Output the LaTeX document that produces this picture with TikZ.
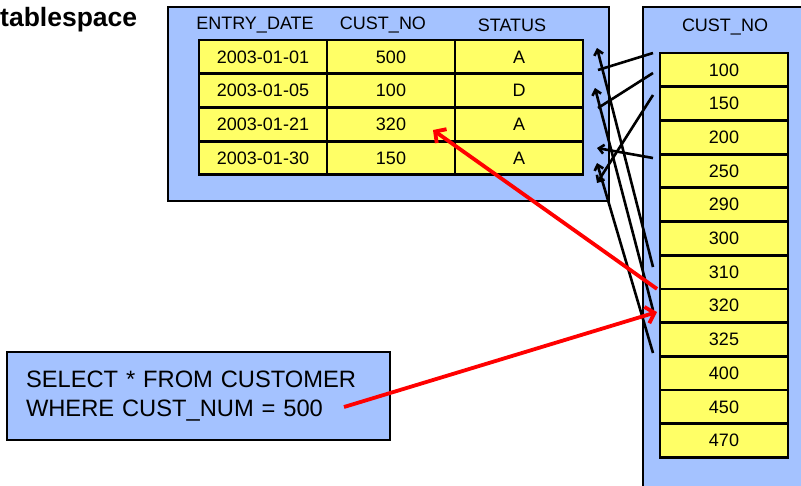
\documentclass[tikz,border=0pt]{standalone}
\usepackage{fontspec}
\setmainfont{Liberation Sans}
\usepackage{tikz}
\usetikzlibrary{positioning,arrows.meta}

\definecolor{areablue}{RGB}{164,194,255}
\definecolor{cellyellow}{RGB}{255,255,102}

\begin{document}
\begin{tikzpicture}[
    x=1pt, y=-1pt,
    font=\fontsize{18}{21}\selectfont,
    areabox/.style={draw=black, fill=areablue, line width=2.8pt, inner sep=0pt},
    cellnode/.style={draw=black, fill=cellyellow, line width=2.8pt, minimum width=128pt, minimum height=33.7pt, inner sep=0pt, outer sep=0pt},
    ptr/.style={draw=black, line width=2.6pt},
    ptrarrow/.style={ptr, -{Straight Barb[length=5pt,width=9pt]}},
    hitarrow/.style={draw=red, line width=3.8pt, -{Straight Barb[length=8pt,width=17pt]}}
    ]
        \useasboundingbox (0,0) rectangle (801,485);
        \clip (0,0) rectangle (801,485);

        %Areas
        \node[areabox, minimum width=441pt, minimum height=194pt]
            (tbl) at (388.5,104) {};
        \node[areabox, minimum width=170pt, minimum height=500pt]
            (idx) at (728,257) {};
        \node[areabox, text width=345pt, minimum height=88pt, inner xsep=19pt, align=left, font=\fontsize{23.7}{29}\selectfont]
            (query) at (198.5,396) {SELECT * FROM CUSTOMER\\WHERE CUST\_NUM = 500};
        \node[font=\bfseries\fontsize{26.5}{30}\selectfont, anchor=base west, inner sep=0pt]
            (space) at (0,26) {tablespace};

        %Table header
        \node (hdate) at (255,25) {ENTRY\_DATE};
        \node (hcust) at (383,25) {CUST\_NO};
        \node (hstat) at (512,25) {STATUS};

        %Table rows
        \node[cellnode] (c11) at (263,56.9)        {2003-01-01};
        \node[cellnode] (c12) [right=0pt of c11]   {500};
        \node[cellnode] (c13) [right=0pt of c12]   {A};
        \node[cellnode] (c21) [below=0pt of c11]   {2003-01-05};
        \node[cellnode] (c22) [right=0pt of c21]   {100};
        \node[cellnode] (c23) [right=0pt of c22]   {D};
        \node[cellnode] (c31) [below=0pt of c21]   {2003-01-21};
        \node[cellnode] (c32) [right=0pt of c31]   {320};
        \node[cellnode] (c33) [right=0pt of c32]   {A};
        \node[cellnode] (c41) [below=0pt of c31]   {2003-01-30};
        \node[cellnode] (c42) [right=0pt of c41]   {150};
        \node[cellnode] (c43) [right=0pt of c42]   {A};

        %Index
        \node (hidx) at (725,27) {CUST\_NO};
        \node[cellnode] (i1) at (724,69.85)       {100};
        \node[cellnode] (i2) [below=0pt of i1]    {150};
        \node[cellnode] (i3) [below=0pt of i2]    {200};
        \node[cellnode] (i4) [below=0pt of i3]    {250};
        \node[cellnode] (i5) [below=0pt of i4]    {290};
        \node[cellnode] (i6) [below=0pt of i5]    {300};
        \node[cellnode] (i7) [below=0pt of i6]    {310};
        \node[cellnode] (i8) [below=0pt of i7]    {320};
        \node[cellnode] (i9) [below=0pt of i8]    {325};
        \node[cellnode] (i10) [below=0pt of i9]   {400};
        \node[cellnode] (i11) [below=0pt of i10]  {450};
        \node[cellnode] (i12) [below=0pt of i11]  {470};

        %Pointer ends
        \coordinate (p1) at (653,53);   \coordinate (r1) at (598,70);
        \coordinate (p2) at (653,73);   \coordinate (r2) at (598,108);
        \coordinate (p3) at (653,95);   \coordinate (r3) at (597,183);
        \coordinate (p4) at (653,158);  \coordinate (r4) at (597,148);
        \coordinate (p5) at (653,267);  \coordinate (r5) at (597,48);
        \coordinate (p6) at (653,310);  \coordinate (r6) at (595,88);
        \coordinate (p7) at (653,353);  \coordinate (r7) at (597,163);

        %Pointers
        \draw[ptr] (p1) -- (r1);
        \draw[ptr] (p2) -- (r2);
        \draw[ptrarrow] (p3) -- (r3);
        \draw[ptrarrow] (p4) -- (r4);
        \draw[ptrarrow] (p5) -- (r5);
        \draw[ptrarrow] (p6) -- (r6);
        \draw[ptrarrow] (p7) -- (r7);

        %Lookup
        \coordinate (qend) at (344,407);
        \coordinate (hit) at (657,312);
        \coordinate (rowid) at (433,130);
        \draw[hitarrow] (qend) -- (hit);
        \draw[hitarrow] ([xshift=-3pt]i8.north west) -- (rowid);
    \end{tikzpicture}
\end{document}
